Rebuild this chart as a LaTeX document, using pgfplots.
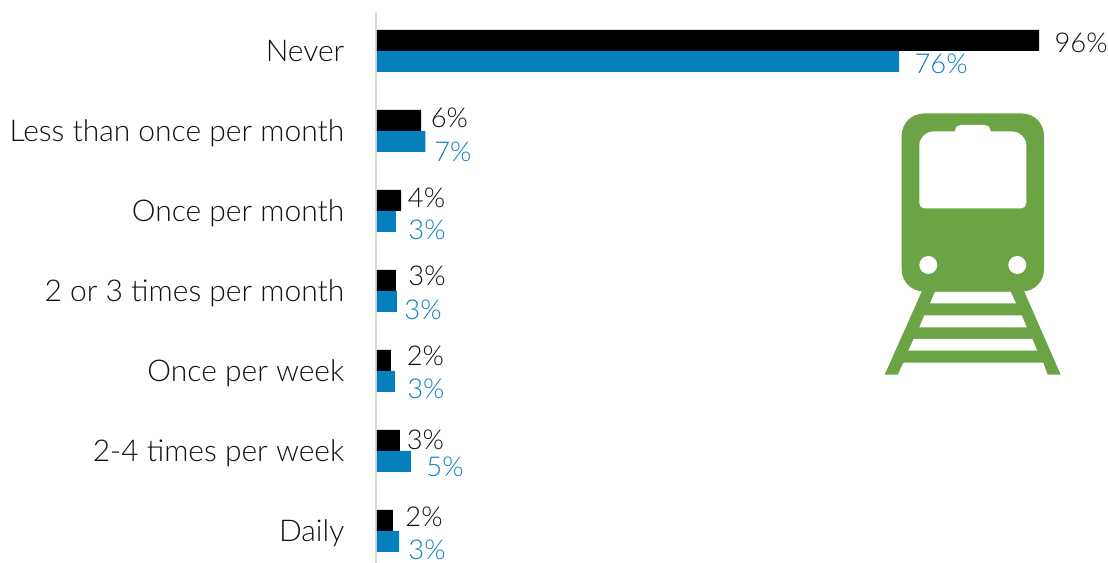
\documentclass[border=0pt]{standalone}
\usepackage{fontspec}
\setmainfont{Lato Light}
\usepackage{pgfplots}
\pgfplotsset{compat=1.18}
\definecolor{railblue}{HTML}{0580BC}
\definecolor{labelblue}{HTML}{0F80C0}
\definecolor{icongreen}{HTML}{6AA444}
\definecolor{axisgray}{HTML}{D9D9D9}
\definecolor{textblack}{HTML}{111111}
\newcommand{\blk}[3]{\node[text=textblack,font=\fontsize{20.5pt}{24pt}\selectfont,inner sep=0pt,yshift=-0.5pt] at (axis cs:#1,#2) {#3\%};}
\newcommand{\blu}[3]{\node[text=labelblue,font=\fontsize{20.5pt}{24pt}\selectfont,inner sep=0pt,yshift=-0.5pt] at (axis cs:#1,#2) {#3\%};}
\begin{document}
\begin{tikzpicture}
\path[use as bounding box] (-282.75pt,0pt) rectangle (548.25pt,422.25pt);
\begin{axis}[
  at={(0,0)}, anchor=south west,
  scale only axis, width=548.25pt, height=413.25pt,
  xmin=0, xmax=106, ymin=-0.4, ymax=6.4875,
  xbar, bar width=15.75pt,
  axis x line=none, axis y line=left,
  y axis line style={draw=axisgray,line width=1.5pt,-,xshift=-0.75pt},
  ytick={0,1,2,3,4,5,6},
  yticklabels={Daily,2-4 times per week,Once per week,2 or 3 times per month,Once per month,Less than once per month,Never},
  y tick label style={font=\fontsize{22.5pt}{26pt}\selectfont,text=textblack,anchor=base east,xshift=-21pt,yshift=-7.6pt},
  major tick length=0pt, tick style={draw=none},
  clip=false,
]
\addplot+[bar shift=7.875pt,draw=none,fill=black] coordinates {(96,6) (6.4,5) (3.5,4) (2.75,3) (2.0,2) (3.3,1) (2.3,0)};
\addplot+[bar shift=-7.875pt,draw=none,fill=railblue] coordinates {(75.7,6) (7.0,5) (2.75,4) (2.9,3) (2.6,2) (4.9,1) (3.2,0)};
\blk{102.1}{6.11}{96} \blu{81.8}{5.85}{76}
\blk{10.5}{5.175}{6} \blu{11.0}{4.75}{7}
\blk{7.18}{4.175}{4} \blu{7.25}{3.775}{3}
\blk{7.25}{3.2}{3} \blu{6.67}{2.775}{3}
\blk{7.03}{2.2}{2} \blu{7.1}{1.79}{3}
\blk{7.03}{1.15}{3} \blu{9.86}{0.81}{5}
\blk{6.82}{0.19}{2} \blu{7.25}{-0.225}{3}
\end{axis}
% train icon, in pixels of the picture
\begin{scope}[x=0.75pt,y=-0.75pt,shift={(-282.75pt,422.25pt)}]
\fill[icongreen] (922,291) -- (884.7,374.7) -- (897.7,374.7) -- (903.3,362.7) -- (1043.3,362.7) -- (1047.7,374.7) -- (1060.7,374.7) -- (1024,291) -- cycle;
\fill[white] (935,291.7) -- (930,303.3) -- (1016,303.3) -- (1010.7,291.7) -- cycle;
\fill[white] (924.3,315.3) -- (919.3,327.3) -- (1026.7,327.3) -- (1021.7,315.3) -- cycle;
\fill[white] (913.7,339) -- (908.3,350.7) -- (1037.3,350.7) -- (1032.3,339) -- cycle;
\fill[icongreen,rounded corners=16.5pt] (901.7,113.5) rectangle (1044,291.5);
\fill[white,rounded corners=4pt] (955,140) -- (955,125) -- (990.5,125) -- (990.5,140) -- cycle;
\fill[white,rounded corners=10.5pt] (919.3,170) -- (919.3,131.5) -- (1026.3,131.5) -- (1026.3,170) [rounded corners=4pt] -- (1026.3,208.5) -- (919.3,208.5) -- cycle;
\fill[white] (928.3,265) circle[radius=9];
\fill[white] (1017.3,265) circle[radius=9];
\end{scope}
\end{tikzpicture}
\end{document}
